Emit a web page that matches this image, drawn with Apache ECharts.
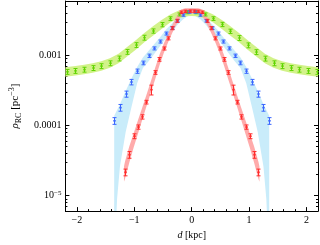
<!DOCTYPE html>
<html><head><meta charset="utf-8">
<script src="https://cdn.jsdelivr.net/npm/echarts@6/dist/echarts.min.js"></script>
<style>html,body{margin:0;padding:0;background:#fff}#c{width:320px;height:245px}</style>
</head><body><div id="c"></div>
<script>
// ---------- axis settings (values) ----------
const xMin = -2.2, xMax = 2.2;
const yMin = 6e-6, yMax = 6e-3;
const xMajor = [-2, -1, 0, 1, 2];
const xLabels = ['\u22122', '\u22121', '0', '1', '2'];
const xMinor = [-2.2,-1.8,-1.6,-1.4,-1.2,-0.8,-0.6,-0.4,-0.2,0.2,0.4,0.6,0.8,1.2,1.4,1.6,1.8,2.2];
const yMajor = [1e-5, 1e-4, 1e-3];
const yLabels = ['10{p|\u22125}', '0.0001', '0.001'];
const yMinor = [6e-6,7e-6,8e-6,9e-6,2e-5,3e-5,4e-5,5e-5,6e-5,7e-5,8e-5,9e-5,2e-4,3e-4,4e-4,5e-4,6e-4,7e-4,8e-4,9e-4,2e-3,3e-3,4e-3,5e-3,6e-3];

// ---------- green population ----------
const gX = [-2.175,-2.025,-1.875,-1.725,-1.575,-1.425,-1.275,-1.125,-0.975,-0.825,-0.675,-0.525,-0.375,-0.225,-0.075,0.075,0.225,0.375,0.525,0.675,0.825,0.975,1.125,1.275,1.425,1.575,1.725,1.875,2.025,2.175];
const gY = [5.85e-4,6.04e-4,6.29e-4,6.63e-4,7.06e-4,7.76e-4,9.08e-4,1.13e-3,1.41e-3,1.80e-3,2.24e-3,2.76e-3,3.37e-3,3.86e-3,4.15e-3,4.15e-3,3.86e-3,3.37e-3,2.78e-3,2.22e-3,1.78e-3,1.40e-3,1.12e-3,9.05e-4,7.76e-4,7.06e-4,6.63e-4,6.29e-4,6.04e-4,5.85e-4];
const gErr = [0.08,0.08,0.08,0.08,0.08,0.08,0.08,0.08,0.08,0.08,0.07,0.07,0.06,0.05,0.05,0.05,0.05,0.06,0.07,0.07,0.08,0.08,0.08,0.08,0.08,0.08,0.08,0.08,0.08,0.08];
const gBandX = [-2.2,-2.025,-1.875,-1.725,-1.575,-1.425,-1.275,-1.125,-0.975,-0.825,-0.675,-0.525,-0.375,-0.225,-0.075,0,0.075,0.225,0.375,0.525,0.675,0.825,0.975,1.125,1.275,1.425,1.575,1.725,1.875,2.025,2.2];
const gBandHi = [6.78e-4,7.06e-4,7.35e-4,7.75e-4,8.28e-4,9.12e-4,1.058e-3,1.32e-3,1.65e-3,2.10e-3,2.62e-3,3.20e-3,3.85e-3,4.38e-3,4.60e-3,4.62e-3,4.60e-3,4.38e-3,3.85e-3,3.20e-3,2.62e-3,2.10e-3,1.65e-3,1.32e-3,1.058e-3,9.12e-4,8.28e-4,7.75e-4,7.35e-4,7.06e-4,6.78e-4];
const gBandLo = [4.96e-4,5.17e-4,5.38e-4,5.67e-4,6.06e-4,6.67e-4,7.74e-4,9.67e-4,1.206e-3,1.54e-3,1.92e-3,2.38e-3,2.95e-3,3.40e-3,3.64e-3,3.66e-3,3.64e-3,3.40e-3,2.95e-3,2.38e-3,1.92e-3,1.54e-3,1.206e-3,9.67e-4,7.74e-4,6.67e-4,6.06e-4,5.67e-4,5.38e-4,5.17e-4,4.96e-4];

// ---------- blue population ----------
const bX = [-1.35,-1.25,-1.15,-1.05,-0.95,-0.85,-0.75,-0.65,-0.55,-0.45,-0.35,-0.25,-0.15,-0.05,0.05,0.15,0.25,0.35,0.45,0.55,0.65,0.75,0.85,0.95,1.05,1.15,1.25,1.35];
const bY = [1.168e-4,1.80e-4,2.82e-4,4.18e-4,5.98e-4,7.84e-4,9.92e-4,1.264e-3,1.585e-3,2.06e-3,2.46e-3,3.13e-3,3.78e-3,4.18e-3,4.18e-3,3.78e-3,3.13e-3,2.46e-3,2.06e-3,1.585e-3,1.264e-3,9.92e-4,7.84e-4,5.98e-4,4.18e-4,2.82e-4,1.80e-4,1.168e-4];
const bErr = [0.11,0.11,0.10,0.09,0.07,0.06,0.055,0.05,0.05,0.05,0.045,0.04,0.04,0.04,0.04,0.04,0.04,0.045,0.05,0.05,0.05,0.055,0.06,0.07,0.09,0.10,0.11,0.11];
const bBandX = [-1.35,-1.30,-1.25,-1.15,-1.05,-0.95,-0.85,-0.75,-0.65,-0.55,-0.45,-0.35,-0.25,-0.15,-0.05,0,0.05,0.15,0.25,0.35,0.45,0.55,0.65,0.75,0.85,0.95,1.05,1.15,1.25,1.30,1.35];
const bBandHi = [1.376e-4,1.66e-4,2.01e-4,3.12e-4,4.69e-4,6.84e-4,9.38e-4,1.168e-3,1.456e-3,1.815e-3,2.33e-3,2.82e-3,3.57e-3,4.24e-3,4.66e-3,4.81e-3,4.66e-3,4.24e-3,3.57e-3,2.82e-3,2.33e-3,1.815e-3,1.456e-3,1.168e-3,9.38e-4,6.84e-4,4.69e-4,3.12e-4,2.01e-4,1.66e-4,1.376e-4];
const bBandLo = [1e-6,8.9e-6,2.60e-5,8.06e-5,1.83e-4,4.01e-4,6.63e-4,8.27e-4,1.063e-3,1.367e-3,1.76e-3,2.12e-3,2.73e-3,3.30e-3,3.74e-3,3.74e-3,3.74e-3,3.30e-3,2.73e-3,2.12e-3,1.76e-3,1.367e-3,1.063e-3,8.27e-4,6.63e-4,4.01e-4,1.83e-4,8.06e-5,2.60e-5,8.9e-6,1e-6];

// ---------- red population ----------
const rX = [-1.1625,-1.0875,-1.0125,-0.9375,-0.8625,-0.7875,-0.7125,-0.6375,-0.5625,-0.4875,-0.4125,-0.3375,-0.2625,-0.1875,-0.1125,-0.0375,0.0375,0.1125,0.1875,0.2625,0.3375,0.4125,0.4875,0.5625,0.6375,0.7125,0.7875,0.8625,0.9375,1.0125,1.0875,1.1625];
const rY = [2.15e-5,3.83e-5,7.05e-5,9.52e-5,1.33e-4,2.16e-4,3.25e-4,5.73e-4,8.81e-4,1.26e-3,1.76e-3,2.46e-3,3.13e-3,4.15e-3,4.28e-3,4.31e-3,4.31e-3,4.28e-3,4.15e-3,3.13e-3,2.46e-3,1.76e-3,1.26e-3,8.81e-4,5.73e-4,3.25e-4,2.16e-4,1.33e-4,9.52e-5,7.05e-5,3.83e-5,2.15e-5];
const rErr = [0.11,0.11,0.08,0.07,0.07,0.06,0.16,0.06,0.06,0.05,0.05,0.05,0.05,0.04,0.04,0.04,0.04,0.04,0.04,0.05,0.05,0.05,0.05,0.06,0.06,0.16,0.06,0.07,0.07,0.08,0.11,0.11];
const rBandX = [-1.18,-1.1625,-1.0875,-1.0125,-0.9375,-0.8625,-0.7875,-0.7125,-0.6375,-0.5625,-0.4875,-0.4125,-0.3375,-0.2625,-0.1875,-0.1125,-0.0375,0,0.0375,0.1125,0.1875,0.2625,0.3375,0.4125,0.4875,0.5625,0.6375,0.7125,0.7875,0.8625,0.9375,1.0125,1.0875,1.1625,1.18];
const rBandHi = [2.60e-5,3.04e-5,5.03e-5,7.69e-5,1.176e-4,1.80e-4,2.75e-4,4.27e-4,6.63e-4,1.014e-3,1.47e-3,2.03e-3,2.73e-3,3.63e-3,4.52e-3,4.71e-3,4.74e-3,4.74e-3,4.74e-3,4.71e-3,4.52e-3,3.63e-3,2.73e-3,2.03e-3,1.47e-3,1.014e-3,6.63e-4,4.27e-4,2.75e-4,1.80e-4,1.176e-4,7.69e-5,5.03e-5,3.04e-5,2.60e-5];
const rBandLo = [1.57e-5,1.726e-5,2.95e-5,4.80e-5,7.57e-5,1.195e-4,1.885e-4,2.93e-4,4.55e-4,7.18e-4,1.073e-3,1.527e-3,2.12e-3,2.82e-3,3.63e-3,3.94e-3,3.98e-3,3.98e-3,3.98e-3,3.94e-3,3.63e-3,2.82e-3,2.12e-3,1.527e-3,1.073e-3,7.18e-4,4.55e-4,2.93e-4,1.885e-4,1.195e-4,7.57e-5,4.80e-5,2.95e-5,1.726e-5,1.57e-5];

// ---------- drawing ----------
const L = Math.log10;
const FONT = 'Liberation Serif';

function bandSeries(xs, lo, hi, color) {
  return {
    type: 'custom', clip: true, silent: true,
    data: [[0, -3]],
    renderItem: function (params, api) {
      const pts = [];
      for (let i = 0; i < xs.length; i++) pts.push(api.coord([xs[i], L(hi[i])]));
      for (let i = xs.length - 1; i >= 0; i--) pts.push(api.coord([xs[i], L(lo[i])]));
      return { type: 'polygon', shape: { points: pts }, style: { fill: color } };
    }
  };
}
function errSeries(xs, ys, errs, color) {
  const data = xs.map((x, i) => [x, L(ys[i]), L(ys[i] * (1 - errs[i])), L(ys[i] * (1 + errs[i]))]);
  return {
    type: 'custom', clip: true, silent: true, data: data,
    renderItem: function (params, api) {
      const p = api.coord([api.value(0), api.value(1)]);
      const pl = api.coord([api.value(0), api.value(2)]);
      const ph = api.coord([api.value(0), api.value(3)]);
      const x = Math.round(p[0]) + 0.5, w = 2;
      const st = { stroke: color, lineWidth: 1 };
      return { type: 'group', children: [
        { type: 'line', shape: { x1: x, y1: pl[1], x2: x, y2: ph[1] }, style: st },
        { type: 'line', shape: { x1: x - w, y1: pl[1], x2: x + w, y2: pl[1] }, style: st },
        { type: 'line', shape: { x1: x - w, y1: ph[1], x2: x + w, y2: ph[1] }, style: st },
        { type: 'rect', shape: { x: x - 1.2, y: p[1] - 0.8, width: 2.4, height: 1.6 }, style: { fill: color } }
      ]};
    }
  };
}

const axLine = { show: true, onZero: false, lineStyle: { color: '#000', width: 1 } };
const noLine = { show: false, onZero: false };
function xAx(pos, ticks, len, main) {
  return {
    type: 'value', min: xMin, max: xMax, position: pos,
    axisLine: main ? axLine : noLine,
    splitLine: { show: false },
    axisTick: { show: true, inside: true, length: len, customValues: ticks, lineStyle: { color: '#000', width: 1 } },
    axisLabel: (main && pos === 'bottom') ? {
      show: true, customValues: xMajor, margin: 4, color: '#000', fontFamily: FONT, fontSize: 10,
      formatter: v => xLabels[xMajor.indexOf(Math.round(v))]
    } : { show: false, customValues: ticks },
    name: (main && pos === 'bottom') ? '{i|d} [kpc]' : '',
    nameLocation: 'middle', nameGap: 13,
    nameTextStyle: { color: '#000', fontFamily: FONT, fontSize: 10, rich: { i: { fontStyle: 'italic', fontFamily: FONT, fontSize: 10 } } }
  };
}
const yMajL = yMajor.map(L), yMinL = yMinor.map(L);
function yAx(pos, ticks, len, main) {
  return {
    type: 'value', min: L(yMin), max: L(yMax), position: pos,
    axisLine: main ? axLine : noLine,
    splitLine: { show: false },
    axisTick: { show: true, inside: true, length: len, customValues: ticks, lineStyle: { color: '#000', width: 1 } },
    axisLabel: (main && pos === 'left') ? {
      show: true, customValues: yMajL, margin: 4, color: '#000', fontFamily: FONT, fontSize: 10, lineHeight: 12,
      formatter: v => yLabels[yMajL.findIndex(t => Math.abs(t - v) < 1e-6)],
      rich: { p: { fontSize: 7, fontFamily: FONT, verticalAlign: 'top', lineHeight: 8 } }
    } : { show: false, customValues: ticks },
    name: (main && pos === 'left') ? '{i|\u03c1}{s|RC} [pc{p|\u22123}]' : '',
    nameLocation: 'middle', nameGap: 39, nameRotate: 90,
    nameTextStyle: { color: '#000', fontFamily: FONT, fontSize: 11, lineHeight: 15,
      rich: {
        i: { fontStyle: 'italic', fontFamily: FONT, fontSize: 11, lineHeight: 15 },
        s: { fontFamily: FONT, fontSize: 8, verticalAlign: 'bottom', lineHeight: 9 },
        p: { fontFamily: FONT, fontSize: 8, verticalAlign: 'top', lineHeight: 9 }
      } }
  };
}

const chart = echarts.init(document.getElementById('c'), null, { renderer: 'canvas' });
chart.setOption({
  animation: false,
  backgroundColor: '#fff',
  grid: { left: 50, right: 2, top: 1, bottom: 24, containLabel: false },
  xAxis: [xAx('bottom', xMajor, 4, true), xAx('bottom', xMinor, 2, false), xAx('top', xMajor, 4, true), xAx('top', xMinor, 2, false)],
  yAxis: [yAx('left', yMajL, 4, true), yAx('left', yMinL, 2, false), yAx('right', yMajL, 4, true), yAx('right', yMinL, 2, false)],
  series: [
    bandSeries(bBandX, bBandLo, bBandHi, '#c9ecfa'),
    bandSeries(gBandX, gBandLo, gBandHi, '#d2f28a'),
    bandSeries(rBandX, rBandLo, rBandHi, '#ffabab'),
    errSeries(gX, gY, gErr, '#5ed400'),
    errSeries(bX, bY, bErr, '#3a66ff'),
    errSeries(rX, rY, rErr, '#ff2b2b')
  ]
});
</script></body></html>
